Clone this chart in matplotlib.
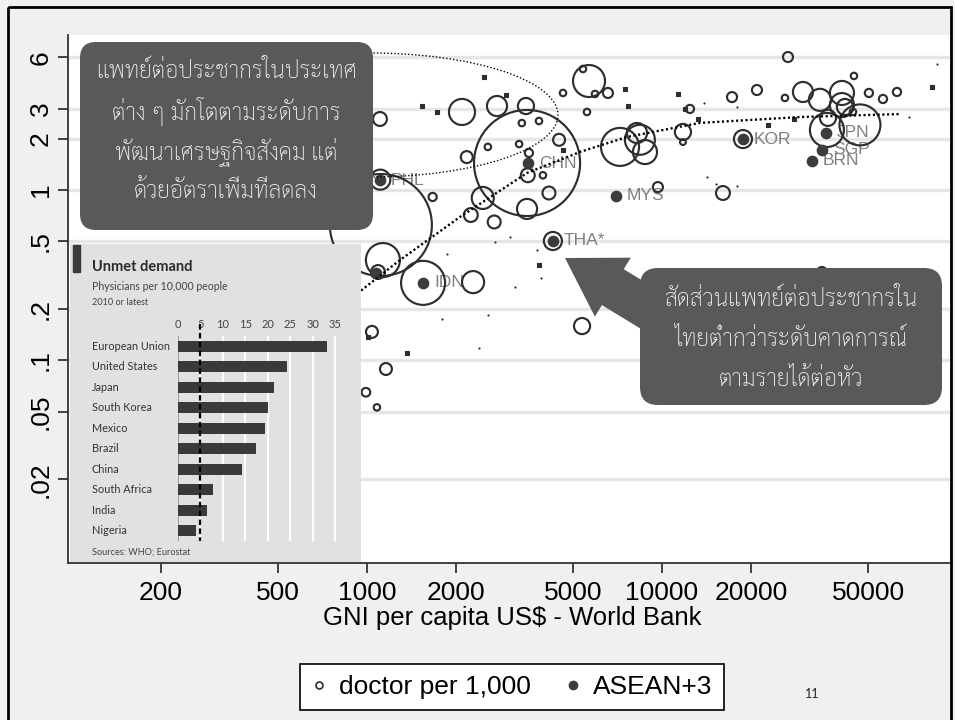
import matplotlib
matplotlib.use("Agg")
import matplotlib.pyplot as plt
from matplotlib.patches import FancyBboxPatch, FancyArrow, Ellipse, Rectangle
from matplotlib.lines import Line2D
from matplotlib.ticker import NullLocator, FixedLocator
from matplotlib.transforms import blended_transform_factory

W, H = 955, 720

plt.rcParams["font.family"] = ["Liberation Sans", "DejaVu Sans"]
THAI = ["Sarabun", "Noto Sans Thai", "Noto Serif Thai", "DejaVu Sans"]
INSET_FONT = ["Lato", "DejaVu Sans"]

# --- countries: GNI per capita (US$), doctors per 1,000, population (millions)
gni = [1107, 2100, 2760, 3460, 3490, 3350, 3830, 2570, 3280, 2180,
       4480, 3540, 3510, 3950, 4140, 2470, 2250, 2700, 3490, 5660,
       5400, 5930, 6560, 4620, 5570, 7210, 8420, 8760, 8230, 11780,
       12440, 11780, 9690, 1670, 1115, 1110, 1133, 1090, 1550, 2290,
       1040, 1160, 992, 1081, 4270, 5360, 18820, 26740, 44760, 30060,
       20990, 17280, 26120, 34320, 40750, 40750, 46900, 36250, 36540, 41720,
       44410, 62620, 56130, 50300, 16100, 34850]
doctors = [2.61, 2.87, 3.11, 3.11, 1.44, 2.47, 2.54, 1.79, 1.86, 1.56,
           1.97, 1.65, 1.22, 1.22, 0.96, 0.898, 0.713, 0.649, 0.774, 4.36,
           5.13, 3.66, 3.71, 3.71, 2.87, 1.79, 1.97, 1.67, 2.16, 2.19,
           2.99, 1.91, 1.04, 0.910, 0.623, 1.15, 0.388, 0.33, 0.285, 0.288,
           0.147, 0.089, 0.065, 0.053, 0.502, 0.159, 1.99, 6.03, 4.67, 3.76,
           3.86, 3.51, 3.47, 3.38, 3.71, 3.15, 2.41, 2.25, 2.65, 3.07,
           2.87, 3.76, 3.42, 3.71, 0.96, 0.33]
population = [23, 81, 48, 31, 1340, 5, 5, 5, 5, 17,
              17, 8, 23, 5, 20, 58, 23, 20, 48, 122,
              5, 5, 12, 5, 5, 172, 107, 69, 48, 31,
              8, 4, 12, 8, 1240, 48, 138, 23, 231, 58,
              17, 17, 9, 5, 39, 31, 39, 12, 5, 48,
              12, 12, 5, 58, 69, 69, 200, 138, 31, 31,
              5, 8, 8, 8, 23, 12]

# very small countries (drawn as specks)
small_gni = [1540, 1730, 2490, 2960, 7490, 7670, 11330, 11970, 13240, 82290,
             22870, 28030, 4620, 1008, 1366, 3830]
small_doctors = [3.11, 2.87, 4.60, 3.61, 3.91, 3.11, 3.66, 2.99, 2.61, 4.02,
                 2.41, 2.61, 1.72, 0.137, 0.110, 0.365]
tiny_gni = [13880, 17960, 85560, 68760, 14210, 15240, 17960, 1870, 3770, 3890,
            3170, 1800, 2570, 2400, 3050, 2720]
tiny_doctors = [3.24, 3.07, 5.49, 2.68, 1.19, 1.08, 1.06, 0.421, 0.447, 0.305,
                0.270, 0.175, 0.185, 0.118, 0.530, 0.495]

# ASEAN+3 members
asean_codes = ["KOR", "JPN", "SGP", "BRN", "MYS", "THA*", "CHN", "PHL", "IDN", ""]
asean_gni = [18820, 35970, 34850, 32250, 6980, 4270, 3510, 1107, 1550, 1075]
asean_doctors = [1.99, 2.16, 1.72, 1.48, 0.922, 0.502, 1.44, 1.14, 0.285, 0.325]

# fitted trend
trend_gni = [850, 961, 1294, 2066, 3487, 5273, 7604, 13426, 29375, 64120]
trend_doctors = [0.22, 0.259, 0.388, 0.694, 1.258, 1.672, 2.046, 2.475, 2.68, 2.79]

yticks = [0.02, 0.05, 0.1, 0.2, 0.5, 1, 2, 3, 6]
ytick_labels = [".02", ".05", ".1", ".2", ".5", "1", "2", "3", "6"]
xticks = [200, 500, 1000, 2000, 5000, 10000, 20000, 50000]

# Economist inset
inset_countries = ["European Union", "United States", "Japan", "South Korea",
                   "Mexico", "Brazil", "China", "South Africa", "India", "Nigeria"]
inset_values = [33.2, 24.3, 21.4, 20.1, 19.5, 17.5, 14.2, 7.7, 6.5, 4.0]

note_top = ["แพทย์ต่อประชากรในประเทศ", "ต่าง ๆ มักโตตามระดับการ",
            "พัฒนาเศรษฐกิจสังคม แต่", "ด้วยอัตราเพิ่มที่ลดลง"]
note_thai = ["สัดส่วนแพทย์ต่อประชากรใน", "ไทยต่ำกว่าระดับคาดการณ์",
             "ตามรายได้ต่อหัว"]

EDGE = "#2e2e2e"


def fx(px):
    return px / W


def fy(py):
    return 1 - py / H


fig = plt.figure(figsize=(W / 100, H / 100), dpi=100, facecolor="#f0f0f0")

# main scatter
ax = fig.add_axes([fx(68), fy(563), fx(952) - fx(68), fy(35) - fy(563)])
ax.set_facecolor("white")
ax.set_xscale("log")
ax.set_yscale("log")
ax.set_xlim(97, 96200)
ax.set_ylim(0.00647, 8.12)

ax.scatter(gni, doctors, s=[p * 4.35 for p in population], facecolors="none",
           edgecolors=EDGE, linewidths=1.55, zorder=3)
ax.scatter(small_gni, small_doctors, s=5, color=EDGE, linewidths=0.8,
           marker="s", zorder=3)
ax.scatter(tiny_gni, tiny_doctors, s=0.6, color=EDGE, linewidths=0.8, zorder=3)
ax.scatter(asean_gni, asean_doctors, s=55, color="#3c3c3c", zorder=4)
for code, gx, dy in zip(asean_codes, asean_gni, asean_doctors):
    ax.annotate(code, (gx, dy), xytext=(8, 0), textcoords="offset points",
                va="center", ha="left", fontsize=12.5, color="#7f7f7f", zorder=2)

ax.plot(trend_gni, trend_doctors, color="black", lw=1.7,
        linestyle=(0, (0.9, 1.1)), zorder=5)

ax.yaxis.set_major_locator(FixedLocator(yticks))
ax.yaxis.set_minor_locator(NullLocator())
ax.set_yticklabels(ytick_labels, rotation=90, va="center")
ax.xaxis.set_major_locator(FixedLocator(xticks))
ax.xaxis.set_minor_locator(NullLocator())
ax.set_xticklabels([str(v) for v in xticks])
ax.tick_params(axis="both", direction="out", length=7, width=1.3,
               color="#333333", labelsize=19, labelcolor="black")
ax.tick_params(axis="x", pad=6)
ax.tick_params(axis="y", pad=4)
ax.grid(axis="y", color="#e6e6e6", lw=2.5, zorder=0)
ax.set_axisbelow(True)
for side in ("top", "right"):
    ax.spines[side].set_visible(False)
for side in ("left", "bottom"):
    ax.spines[side].set_color("#333333")
    ax.spines[side].set_linewidth(1.3)

fig.text(fx(512), fy(618), "GNI per capita US$ - World Bank",
         ha="center", va="center", fontsize=18.5)

handles = [
    Line2D([], [], marker="o", ls="none", mfc="none", mec=EDGE, ms=5, mew=1.2),
    Line2D([], [], marker="o", ls="none", mfc="#3c3c3c", mec="#3c3c3c", ms=6),
]
leg = fig.legend(handles, ["doctor per 1,000", "ASEAN+3"], loc="center",
                 bbox_to_anchor=(fx(512), fy(687)), ncol=2, fontsize=19,
                 frameon=True, fancybox=False, edgecolor="black", framealpha=1,
                 handlelength=0.6, handletextpad=0.45, columnspacing=1.3,
                 borderpad=0.42, borderaxespad=0)
leg.get_frame().set_linewidth(1.2)

# Economist inset panel
ax_in = fig.add_axes([fx(70), fy(562), fx(361) - fx(70), fy(244) - fy(562)], zorder=3)
ax_in.set_facecolor("#e1e1e1")
ax_in.set_xticks([])
ax_in.set_yticks([])
for sp in ax_in.spines.values():
    sp.set_visible(False)
ax_in.add_patch(Rectangle((fx(73), fy(272)), fx(80) - fx(73), fy(245) - fy(272),
                          transform=fig.transFigure, color="#3b3b3b"))
ax_in.text(fx(92), fy(267), "Unmet demand", transform=fig.transFigure,
           fontsize=10.5, fontweight="bold", color="#2b2b2b", va="center",
           family=INSET_FONT)
ax_in.text(fx(92), fy(287), "Physicians per 10,000 people", transform=fig.transFigure,
           fontsize=7.6, color="#444444", va="center", family=INSET_FONT)
ax_in.text(fx(92), fy(302), "2010 or latest", transform=fig.transFigure,
           fontsize=6.6, color="#444444", va="center", family=INSET_FONT)
ax_in.text(fx(92), fy(552), "Sources: WHO; Eurostat", transform=fig.transFigure,
           fontsize=6.6, color="#444444", va="center", family=INSET_FONT)

ax_bar = fig.add_axes([fx(178), fy(541), fx(341) - fx(178), fy(336) - fy(541)], zorder=4)
ax_bar.set_facecolor("none")
ax_bar.set_xlim(0, 36.34)
ax_bar.set_ylim(len(inset_countries) - 0.5, -0.5)
ax_bar.barh(range(len(inset_values)), inset_values, height=0.52, color="#3a3a3a", zorder=3)
ax_bar.set_xticks(range(0, 40, 5))
ax_bar.xaxis.tick_top()
ax_bar.tick_params(axis="x", length=0, pad=4, labelsize=8, labelcolor="#444444")
for lbl in ax_bar.get_xticklabels():
    lbl.set_family(INSET_FONT)
ax_bar.set_yticks([])
ax_bar.grid(axis="x", color="white", lw=1.4, zorder=0)
ax_bar.set_axisbelow(True)
ax_bar.axvline(0, color="#9a9a9a", lw=1.4, zorder=2)
ax_bar.plot([5, 5], [-1.1, len(inset_countries) - 0.5], color="black", lw=1.6,
            linestyle=(0, (2.5, 1.5)), clip_on=False, zorder=5)
for sp in ax_bar.spines.values():
    sp.set_visible(False)
row_tr = blended_transform_factory(fig.transFigure, ax_bar.transData)
for i, name in enumerate(inset_countries):
    ax_bar.text(fx(92), i, name, transform=row_tr, va="center", ha="left",
                fontsize=7.8, color="#333333", family=INSET_FONT)

# overlay in pixel units: callouts, ellipse, slide frame
ov = fig.add_axes([0, 0, 1, 1], zorder=6)
ov.set_xlim(0, W)
ov.set_ylim(H, 0)
ov.axis("off")
ov.patch.set_alpha(0)

ov.add_patch(Ellipse((370, 115), 376, 124, fill=False, ec="black", lw=1.0,
                     linestyle=(0, (1, 1.5))))
ov.add_patch(FancyBboxPatch((80, 42), 293, 188, boxstyle="round,pad=0,rounding_size=16",
                            fc="#595959", ec="none"))
for i, line in enumerate(note_top):
    ov.text(226, 72 + 40 * i, line, ha="center", va="center", fontsize=16.6,
            color="#f4f4f4", family=THAI, fontweight="light")

ov.add_patch(FancyArrow(702, 341.5, -137, -83.5, width=42, head_width=69,
                        head_length=56, length_includes_head=True,
                        fc="#595959", ec="none"))
ov.add_patch(FancyBboxPatch((640, 268), 302, 137, boxstyle="round,pad=0,rounding_size=18",
                            fc="#595959", ec="none"))
for i, line in enumerate(note_thai):
    ov.text(791, 300 + 40 * i, line, ha="center", va="center", fontsize=16.6,
            color="#f4f4f4", family=THAI, fontweight="light")

ov.add_patch(Rectangle((8, 7), 943, 720, fill=False, ec="black", lw=2))
ov.text(812, 694, "11", ha="center", va="center", fontsize=9, color="#222222",
        family=["Lato", "DejaVu Sans"])

fig.savefig("out.png", dpi=100, facecolor=fig.get_facecolor())
